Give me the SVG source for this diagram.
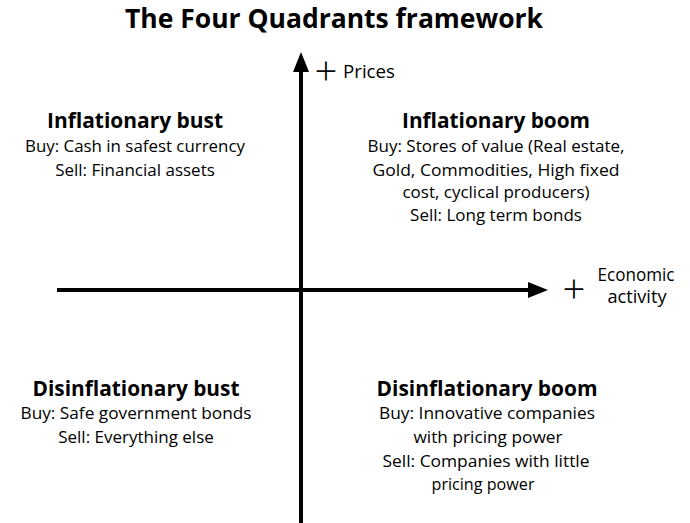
<svg xmlns="http://www.w3.org/2000/svg" width="690" height="523" viewBox="0 0 690 523">
<style>
text{font-family:"Open Sans","Liberation Sans",sans-serif;fill:#000;text-anchor:middle}
.t{font-size:26px;font-weight:bold}
.h{font-size:21px;font-weight:bold}
.b{font-size:17px}
.l{font-size:18px}
.p{font-size:40px;font-weight:300}
</style>
<rect width="690" height="523" fill="#fff"/>
<text class="t" x="334" y="28" textLength="418" lengthAdjust="spacingAndGlyphs">The Four Quadrants framework</text>
<g id="axes">
<line x1="301" y1="523" x2="301" y2="68" stroke="#000" stroke-width="4"/>
<polygon points="301,52 293,72 309,72" fill="#000"/>
<line x1="57" y1="290" x2="532" y2="290" stroke="#000" stroke-width="4"/>
<polygon points="548,290 528,282 528,298" fill="#000"/>
</g>
<g id="axis-prices">
<text class="p" x="326" y="85">+</text>
<text class="l" x="369" y="78" textLength="52" lengthAdjust="spacingAndGlyphs">Prices</text>
</g>
<g id="axis-econ">
<text class="p" x="574" y="303">+</text>
<text class="l" x="636" y="281" textLength="77" lengthAdjust="spacingAndGlyphs">Economic</text>
<text class="l" x="637" y="303" textLength="59" lengthAdjust="spacingAndGlyphs">activity</text>
</g>
<g id="inflationary-bust">
<text class="h" x="135" y="128" textLength="176" lengthAdjust="spacingAndGlyphs">Inflationary bust</text>
<text class="b" x="135" y="152" textLength="220" lengthAdjust="spacingAndGlyphs">Buy: Cash in safest currency</text>
<text class="b" x="135" y="176">Sell: Financial assets</text>
</g>
<g id="inflationary-boom">
<text class="h" x="496" y="128" textLength="188" lengthAdjust="spacingAndGlyphs">Inflationary boom</text>
<text class="b" x="496" y="152" textLength="257" lengthAdjust="spacingAndGlyphs">Buy: Stores of value (Real estate,</text>
<text class="b" x="496" y="176" textLength="247" lengthAdjust="spacingAndGlyphs">Gold, Commodities, High fixed</text>
<text class="b" x="496" y="198">cost, cyclical producers)</text>
<text class="b" x="496" y="221">Sell: Long term bonds</text>
</g>
<g id="disinflationary-bust">
<text class="h" x="136" y="396" textLength="207" lengthAdjust="spacingAndGlyphs">Disinflationary bust</text>
<text class="b" x="136" y="419" textLength="231" lengthAdjust="spacingAndGlyphs">Buy: Safe government bonds</text>
<text class="b" x="136" y="443">Sell: Everything else</text>
</g>
<g id="disinflationary-boom">
<text class="h" x="487" y="396" textLength="221" lengthAdjust="spacingAndGlyphs">Disinflationary boom</text>
<text class="b" x="487" y="419" textLength="216" lengthAdjust="spacingAndGlyphs">Buy: Innovative companies</text>
<text class="b" x="488" y="443" textLength="149" lengthAdjust="spacingAndGlyphs">with pricing power</text>
<text class="b" x="486" y="467" textLength="207" lengthAdjust="spacingAndGlyphs">Sell: Companies with little</text>
<text class="b" x="483" y="490" textLength="103" lengthAdjust="spacingAndGlyphs">pricing power</text>
</g>
</svg>
